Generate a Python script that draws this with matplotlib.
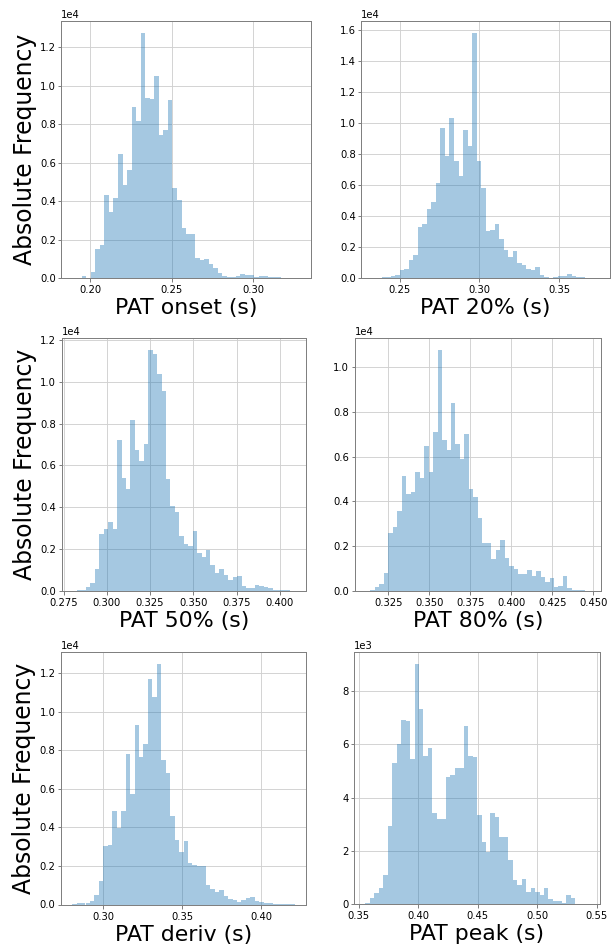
import numpy as np
import matplotlib
matplotlib.use("Agg")
import matplotlib.pyplot as plt
from matplotlib.ticker import MultipleLocator, ScalarFormatter

# ---- data (bin ranges and counts) ----
labels = ["PAT onset (s)", "PAT 20% (s)", "PAT 50% (s)",
          "PAT 80% (s)", "PAT deriv (s)", "PAT peak (s)"]

onset_range = (0.1892, 0.3282)
onset_counts = [5, 5, 87, 20, 330, 1496, 1739, 4330, 3426, 4157,
                6452, 4835, 5600, 8922, 8174, 12765, 9357, 9304, 10522, 7426,
                7687, 9252, 4661, 4035, 2609, 2278, 2278, 1061, 922, 991,
                713, 504, 243, 87, 70, 70, 87, 226, 174, 174,
                70, 104, 104, 52, 52, 35, 17, 17, 5, 10]

p20_range = (0.2328, 0.3750)
p20_counts = [5, 20, 43, 86, 129, 194, 538, 580, 1140, 1505,
              3311, 3483, 4450, 4880, 6128, 9654, 7848, 10277, 7525, 6558,
              9525, 8471, 15781, 7547, 5805, 3010, 3118, 3505, 2516, 1828,
              1333, 1763, 946, 839, 581, 495, 710, 194, 86, 22,
              86, 108, 108, 258, 129, 86, 43, 22, 5, 3]

p50_range = (0.2802, 0.4087)
p50_counts = [16, 32, 48, 175, 398, 1049, 2735, 2957, 3291, 2957,
              7203, 5390, 4865, 8157, 6726, 6201, 7044, 11496, 11305, 10351,
              9540, 5342, 4055, 3784, 2639, 2242, 2162, 2846, 1829, 1622,
              1940, 1224, 875, 1049, 747, 525, 652, 716, 223, 127,
              159, 270, 239, 175, 143, 48, 48, 64, 32, 5]

p80_range = (0.3113, 0.4479)
p80_counts = [15, 45, 178, 297, 788, 2602, 2840, 3554, 5130, 4327,
              4416, 5338, 5056, 6498, 5323, 7123, 10751, 6766, 6305, 8387,
              6558, 5904, 7034, 4535, 4193, 3242, 2126, 2126, 1428, 1829,
              2260, 1457, 1130, 996, 744, 773, 952, 684, 892, 610,
              387, 580, 164, 223, 654, 149, 45, 30, 30, 15]

deriv_range = (0.2802, 0.4215)
deriv_counts = [43, 61, 78, 95, 164, 493, 1202, 3053, 3071, 4853,
                3988, 4853, 7794, 5718, 9316, 7655, 8313, 11685, 10768, 12482,
                7500, 6826, 4593, 3348, 2742, 3313, 2154, 2067, 1998, 1981,
                995, 804, 631, 735, 424, 285, 234, 147, 216, 337,
                407, 182, 112, 78, 61, 43, 43, 26, 26, 9]

peak_range = (0.3556, 0.5431)
peak_counts = [25, 212, 425, 612, 1100, 2925, 5288, 6013, 6913, 6888,
               5450, 9025, 7338, 5550, 5875, 3413, 3213, 3200, 4775, 4863,
               5100, 5100, 6675, 5563, 5538, 3363, 2338, 1963, 3438, 3275,
               2538, 2513, 1638, 888, 713, 950, 463, 612, 438, 350,
               612, 200, 100, 100, 38, 325, 238, 12, 12, 12]

x_steps = [0.05, 0.05, 0.025, 0.025, 0.05, 0.05]

ranges = [onset_range, p20_range, p50_range, p80_range, deriv_range, peak_range]
counts = [onset_counts, p20_counts, p50_counts, p80_counts, deriv_counts, peak_counts]

# ---- layout (pixel boxes: left, right, top, bottom) ----
W, H = 611, 949
boxes = [(61.3, 310.8, 20.5, 278.0), (361.3, 610.0, 20.7, 278.0),
         (61.5, 306.0, 338.3, 591.0), (354.7, 601.0, 338.3, 591.0),
         (61.0, 306.0, 652.0, 904.5), (354.3, 599.8, 652.0, 904.0)]

fig = plt.figure(figsize=(W / 72, H / 72), dpi=72)
fig.patch.set_facecolor("white")

for i in range(6):
    l, r, t, b = boxes[i]
    ax = fig.add_axes([l / W, 1 - b / H, (r - l) / W, (b - t) / H])
    lo, hi = ranges[i]
    c = np.array(counts[i], dtype=float)
    edges = np.linspace(lo, hi, len(c) + 1)
    centers = 0.5 * (edges[:-1] + edges[1:])
    ax.hist(centers, bins=edges, weights=c, color="#1f77b4", alpha=0.4)
    ax.set_axisbelow(True)
    ax.grid(True, color="#d0d0d0", linewidth=0.9)
    for s in ax.spines.values():
        s.set_color("#808080")
        s.set_linewidth(1.0)
    ax.xaxis.set_major_locator(MultipleLocator(x_steps[i]))
    ax.yaxis.set_major_locator(MultipleLocator(2000))
    fmt = ScalarFormatter(useMathText=False)
    fmt.set_powerlimits((0, 0))
    ax.yaxis.set_major_formatter(fmt)
    ax.tick_params(axis="both", labelsize=10, colors="#808080",
                   labelcolor="black", length=3.5, width=1)
    ax.tick_params(axis="y", pad=2)
    ax.yaxis.get_offset_text().set_fontsize(10)
    ax.set_xlabel(labels[i], fontsize=22, labelpad=3)
    if i % 2 == 0:
        ax.set_ylabel("Absolute Frequency", fontsize=23.5, labelpad=3)

fig.savefig("out.png", dpi=72)
